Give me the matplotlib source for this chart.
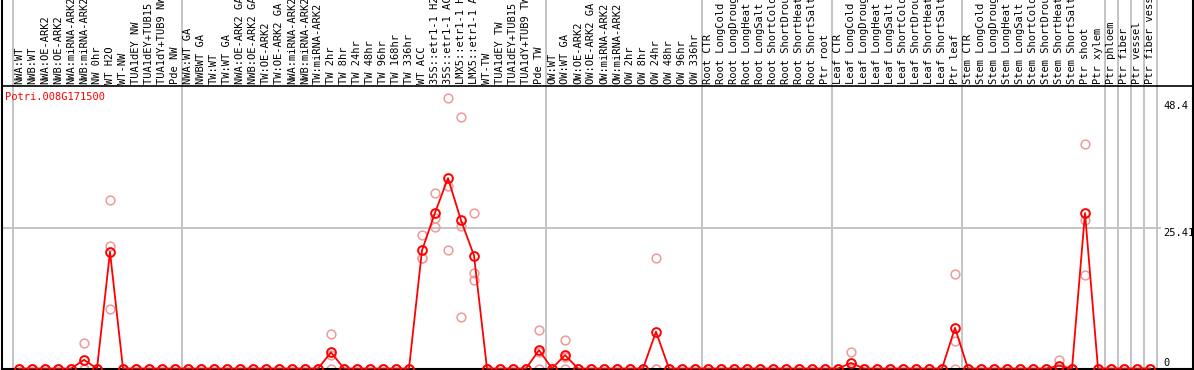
import numpy as np
import matplotlib.pyplot as plt

gene = 'Potri.008G171500'

samples = [
    'NWA:WT', 'NWB:WT', 'NWA:OE-ARK2', 'NWB:OE-ARK2', 'NWA:miRNA-ARK2', 'NWB:miRNA-ARK2',
    'NW 0hr', 'WT H2O', 'WT-NW', 'TUA1dEY NW', 'TUA1dEY+TUB15 NW', 'TUA1dY+TUB9 NW', 'Pde NW',
    'NWA:WT GA', 'NWBWT GA', 'TW:WT', 'TW:WT GA', 'NWA:OE-ARK2 GA', 'NWB:OE-ARK2 GA',
    'TW:OE-ARK2', 'TW:OE-ARK2 GA', 'NWA:miRNA-ARK2', 'NWB:miRNA-ARK2', 'TW:miRNA-ARK2',
    'TW 2hr', 'TW 8hr', 'TW 24hr', 'TW 48hr', 'TW 96hr', 'TW 168hr', 'TW 336hr', 'WT ACC',
    '35S::etr1-1 H2O', '35S::etr1-1 ACC', 'LMX5::etr1-1 H2O', 'LMX5::etr1-1 ACC', 'WT-TW',
    'TUA1dEY TW', 'TUA1dEY+TUB15 TW', 'TUA1dY+TUB9 TW', 'Pde TW',
    'OW:WT', 'OW:WT GA', 'OW:OE-ARK2', 'OW:OE-ARK2 GA', 'OW:miRNA-ARK2', 'OW:miRNA-ARK2',
    'OW 2hr', 'OW 8hr', 'OW 24hr', 'OW 48hr', 'OW 96hr', 'OW 336hr',
    'Root CTR', 'Root LongCold', 'Root LongDrought', 'Root LongHeat', 'Root LongSalt',
    'Root ShortCold', 'Root ShortDrought', 'Root ShortHeat', 'Root ShortSalt', 'Ptr root',
    'Leaf CTR', 'Leaf LongCold', 'Leaf LongDrought', 'Leaf LongHeat', 'Leaf LongSalt',
    'Leaf ShortCold', 'Leaf ShortDrought', 'Leaf ShortHeat', 'Leaf ShortSalt', 'Ptr leaf',
    'Stem CTR', 'Stem LongCold', 'Stem LongDrought', 'Stem LongHeat', 'Stem LongSalt',
    'Stem ShortCold', 'Stem ShortDrought', 'Stem ShortHeat', 'Stem ShortSalt', 'Ptr shoot',
    'Ptr xylem', 'Ptr phloem', 'Ptr fiber', 'Ptr vessel', 'Ptr fiber vessel',
]

# replicate values for samples with expression (all others read as 0)
replicates = {
    5: [4.7, 0.0, 0.0],
    7: [30.5, 22.2, 10.7],
    24: [6.3, 2.5, 0.0],
    31: [24.2, 20.0, 20.0],
    32: [31.8, 27.3, 25.6],
    33: [49.0, 33.1, 21.4],
    34: [45.5, 25.8, 9.3],
    35: [28.1, 17.3, 16.0],
    40: [7.0, 3.0, 0.0],
    42: [5.2, 2.1, 0.0],
    49: [20.0, 0.0, 0.0],
    64: [3.0, 0.0, 0.0],
    72: [17.1, 5.0, 0.0],
    80: [1.5, 0.0, 0.0],
    82: [40.7, 26.9, 16.9],
}

# last sample of each group (vertical separators)
group_ends = [-1, 12, 40, 52, 62, 72, 83, 84, 85, 86, 87]
ytick_vals = [48.4, 25.41, 0]
ytick_text = ['48.4', '25.41', '0']

n = len(samples)
reps = np.zeros((n, 3))
for k, v in replicates.items():
    reps[k] = v
means = reps.mean(axis=1)
x = np.arange(n)

W, H = 1194, 370
fig = plt.figure(figsize=(W / 100, H / 100), dpi=100)
ax = fig.add_axes([2 / W, 1 / H, (1193 - 2) / W, 369 / H])

px = 13.0          # pixels per sample
py = 5.517         # pixels per unit
ax.set_xlim(-17 / px, -17 / px + 1191 / px)
ax.set_ylim(-0.5 / py, 368.5 / py)
top_line = (368.5 - 86) / py

font = dict(family='DejaVu Sans Mono', size=7.5)

for e in group_ends:
    ax.axvline(e + 0.5, color='#c4c4c4', lw=1.4, zorder=0)
ax.axhline(25.41, xmax=(1160 - 2) / 1191, color='#c4c4c4', lw=1.4, zorder=0)
ax.axhline(top_line, color='black', lw=1.2, zorder=1)

for j in range(3):
    ax.plot(x, reps[:, j], 'o', ms=6.3, mfc='none', mec='#ee9a9a', mew=1.1, zorder=2)
ax.plot(x, means, '-', color='red', lw=1.3, zorder=3)
ax.plot(x, means, 'o', ms=6.3, mfc='none', mec='red', mew=1.4, zorder=4)

for i, s in enumerate(samples):
    ax.text(i, (369 - 84) / 369, s, rotation=90, ha='center', va='bottom',
            transform=ax.get_xaxis_transform(), color='black', **font)

ax.text(-1.05, (368.5 - 97) / py, gene, color='red', va='center', ha='left', **font)

for v, t in zip(ytick_vals, ytick_text):
    ax.text(88.0, v, t, ha='left', va='bottom' if v == 0 else 'top', **font)

ax.set_xticks([])
ax.set_yticks([])
ax.spines['top'].set_visible(False)
for s in ['left', 'right', 'bottom']:
    ax.spines[s].set_linewidth(1.5)

fig.savefig('out.png', dpi=100)
